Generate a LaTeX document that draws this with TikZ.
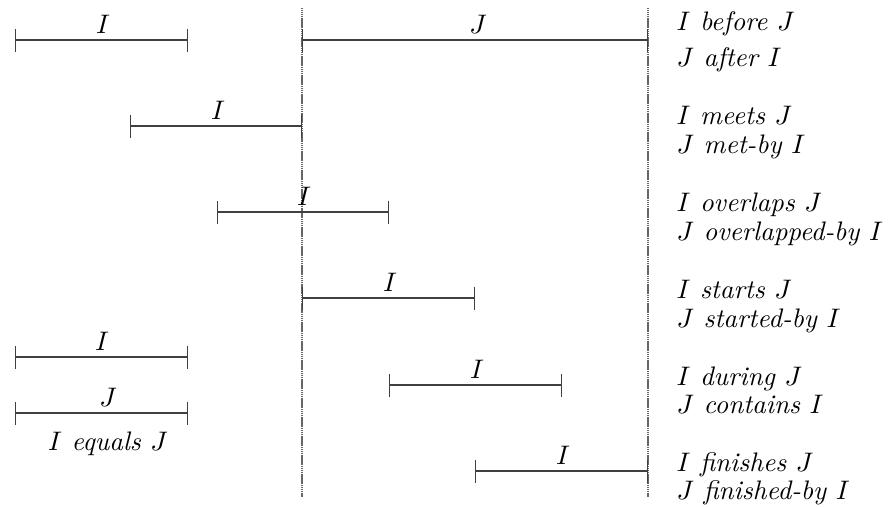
\documentclass[tikz,border=0pt]{standalone}
\usetikzlibrary{arrows.meta}
\begin{document}
\begin{tikzpicture}[x=1pt,y=-1pt,
  every node/.style={font=\normalsize\itshape, inner sep=0pt, scale=2.68},
  ival/.style={line width=1.3pt, draw=black!75,
    {Bar[width=23pt,line width=1.3pt]}-{Bar[width=23pt,line width=1.3pt]}},
  guide/.style={draw=black!60, line width=1.3pt, dash pattern=on 1.4pt off 0.5pt},
  lab/.style={anchor=base},
  rel/.style={anchor=base west}]
\useasboundingbox (0,0) rectangle (890,506);
% guide lines
\coordinate (g1t) at (302,8);  \coordinate (g1b) at (302,497);
\coordinate (g2t) at (648,8);  \coordinate (g2b) at (648,497);
\draw[guide] (g1t) -- (g1b);
\draw[guide] (g2t) -- (g2b);
% row 1: before / after
\coordinate (a1) at (15,40);  \coordinate (b1) at (188,40);
\coordinate (ja) at (302,40); \coordinate (jb) at (648,40);
\draw[ival] (a1) -- (b1);
\draw[ival] (ja) -- (jb);
\node[lab] (l1) at (103,33) {$I$};
\node[lab] (lj) at (478,33) {$J$};
% row 2: meets
\coordinate (a2) at (130,126); \coordinate (b2) at (302,126);
\draw[ival] (a2) -- (b2);
\node[lab] (l2) at (218,119) {$I$};
% row 3: overlaps
\coordinate (a3) at (217,212); \coordinate (b3) at (389,212);
\draw[ival] (a3) -- (b3);
\node[lab] (l3) at (304,205) {$I$};
% row 4: starts
\coordinate (a4) at (302,298); \coordinate (b4) at (475,298);
\draw[ival] (a4) -- (b4);
\node[lab] (l4) at (390,291) {$I$};
% row 5: during
\coordinate (a5) at (389,385); \coordinate (b5) at (562,385);
\draw[ival] (a5) -- (b5);
\node[lab] (l5) at (477,378) {$I$};
% row 6: finishes
\coordinate (a6) at (475,471); \coordinate (b6) at (648,471);
\draw[ival] (a6) -- (b6);
\node[lab] (l6) at (563,464) {$I$};
% equals
\coordinate (ea) at (15,357); \coordinate (eb) at (188,357);
\coordinate (fa) at (15,413); \coordinate (fb) at (188,413);
\draw[ival] (ea) -- (eb);
\draw[ival] (fa) -- (fb);
\node[lab] (le) at (102,350) {$I$};
\node[lab] (lf) at (108,406) {$J$};
\node[lab] (eq) at (108,450) {$I$ equals $J$};
% relation names
\node[rel] (r1a) at (676,30)  {$I$ before $J$};
\node[rel] (r1b) at (676,66)  {$J$ after $I$};
\node[rel] (r2a) at (676,124) {$I$ meets $J$};
\node[rel] (r2b) at (676,153) {$J$ met-by $I$};
\node[rel] (r3a) at (676,211) {$I$ overlaps $J$};
\node[rel] (r3b) at (676,240) {$J$ overlapped-by $I$};
\node[rel] (r4a) at (676,298) {$I$ starts $J$};
\node[rel] (r4b) at (676,327) {$J$ started-by $I$};
\node[rel] (r5a) at (676,385) {$I$ during $J$};
\node[rel] (r5b) at (676,413) {$J$ contains $I$};
\node[rel] (r6a) at (676,471) {$I$ finishes $J$};
\node[rel] (r6b) at (676,499) {$J$ finished-by $I$};
\end{tikzpicture}
\end{document}
